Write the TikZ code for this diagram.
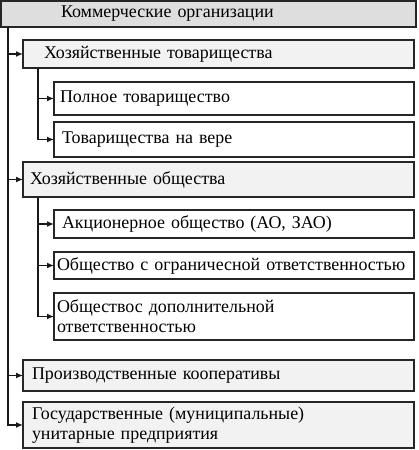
\documentclass[tikz,border=0pt]{standalone}
\usepackage{fontspec}
\setmainfont{Liberation Serif}
\usetikzlibrary{arrows.meta,positioning,calc}

\begin{document}
\begin{tikzpicture}[
    %–––– GLOBAL STYLE TWEAKS ––––
    x=1bp, y=-1bp,
    font=\fontsize{18}{20}\selectfont,
    box/.style = {rectangle, draw=black!85, line width=1.3pt,
                  anchor=north west, align=left,
                  inner xsep=0pt, inner ysep=0pt, outer sep=0pt},
    topbox/.style  = {box, fill=black!13, text width=415bp},   % root
    mainbox/.style = {box, fill=black!5,  text width=391bp},   % first level
    subbox/.style  = {box, fill=white,    text width=360bp},   % second level
    arrow/.style = {-{Latex[length=7bp,width=6bp]}, draw=black!90, line width=1.4pt},
]
\useasboundingbox (0,0) rectangle (418,450);

%–––– ROOT ––––
\node (kom) [topbox, minimum height=26bp] at (1,1) {\hspace*{60bp}Коммерческие организации};

%–––– PARTNERSHIPS ––––
\node (ht)  [mainbox, minimum height=28bp, below right=13bp and 22bp of kom.south west] {\hspace*{21bp}Хозяйственные товарищества};

\node (pt)  [subbox,  minimum height=33bp, below right=14bp and 31bp of ht.south west]  {\hspace*{6bp}Полное товарищество};

\node (tv)  [subbox,  minimum height=35bp, below right=7bp and 0bp of pt.south west]    {\hspace*{8bp}Товарищества на вере};

%–––– COMPANIES ––––
\node (ho)  [mainbox, minimum height=35bp, below right=5bp and -31bp of tv.south west]  {\hspace*{7bp}Хозяйственные общества};

\node (ao)  [subbox,  minimum height=28bp, below right=13bp and 31bp of ho.south west]  {\hspace*{8bp}Акционерное общество (АО, ЗАО)};

\node (ooo) [subbox,  minimum height=27bp, below right=14bp and 0bp of ao.south west]   {\hspace*{3bp}Общество с ограничесной ответственностью};

\node (odo) [subbox,  minimum height=47bp, below right=14bp and 0bp of ooo.south west]  {\hspace*{3bp}Обществос дополнительной\\
                                                                                          \hspace*{3bp}ответственностью};

%–––– OTHER FORMS ––––
\node (pk)  [mainbox, minimum height=31bp, below right=20bp and -31bp of odo.south west] {\hspace*{9bp}Производственные кооперативы};

\node (gup) [mainbox, minimum height=46bp, below right=11bp and 0bp of pk.south west]    {\hspace*{9bp}Государственные (муниципальные)\\
                                                                                           \hspace*{9bp}унитарные предприятия};

%–––– ARROWS ––––
\coordinate (trunk) at ($(kom.south west)+(7,0)$);
\coordinate (htbr)  at ($(ht.south west)+(15,0)$);
\coordinate (hobr)  at ($(ho.south west)+(15,0)$);

\foreach \n in {ht, ho, pk, gup}
  \draw[arrow] (trunk) |- (\n.west);
\foreach \n in {pt, tv}
  \draw[arrow] (htbr) |- (\n.west);
\foreach \n in {ao, ooo, odo}
  \draw[arrow] (hobr) |- (\n.west);
\end{tikzpicture}
\end{document}
